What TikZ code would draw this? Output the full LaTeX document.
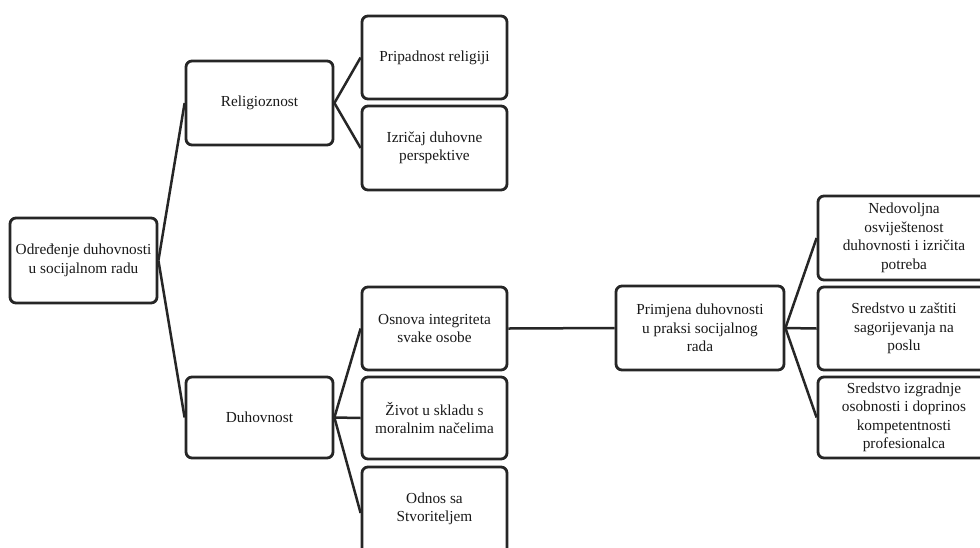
\documentclass[tikz,border=0pt]{standalone}
\usepackage{fontspec}
\setmainfont{Liberation Serif}
\begin{document}
\begin{tikzpicture}[x=1pt,y=-1pt,
  box/.style={draw=black!85, line width=2.8pt, rounded corners=6pt, align=center,
    inner sep=1pt, font=\fontsize{15.3}{18.5}\selectfont, text=black!90},
  link/.style={draw=black!85, line width=2.5pt}]
\useasboundingbox (0,0) rectangle (980,547);
\fill[white] (0,0) rectangle (980,547);
\node[box, minimum width=147pt, minimum height=85pt] (root) at (83.5,260.5) {Određenje duhovnosti\\u socijalnom radu};
\node[box, minimum width=147pt, minimum height=84pt] (rel) at (259.5,103) {Religioznost};
\node[box, minimum width=147pt, minimum height=81pt] (duh) at (259.5,417.5) {Duhovnost};
\node[box, minimum width=145pt, minimum height=83pt] (prip) at (434.5,57.5) {Pripadnost religiji};
\node[box, minimum width=145pt, minimum height=84pt] (izr) at (434.5,148) {Izričaj duhovne\\perspektive};
\node[box, minimum width=145pt, minimum height=83pt] (osn) at (434.5,328.5) {Osnova integriteta\\svake osobe};
\node[box, minimum width=145pt, minimum height=82pt] (ziv) at (434.5,418) {Život u skladu s\\moralnim načelima};
\node[box, minimum width=145pt, minimum height=92pt, text depth=12pt] (odn) at (434.5,513) {Odnos sa\\Stvoriteljem};
\node[box, minimum width=168pt, minimum height=84pt] (prim) at (700,328) {Primjena duhovnosti\\u praksi socijalnog\\rada};
\node[box, minimum width=172pt, minimum height=84pt] (ned) at (904,238) {Nedovoljna\\osviještenost\\duhovnosti i izričita\\potreba};
\node[box, minimum width=172pt, minimum height=83pt] (zas) at (904,328.5) {Sredstvo u zaštiti\\sagorijevanja na\\poslu};
\node[box, minimum width=172pt, minimum height=81pt] (izg) at (904,417.5) {Sredstvo izgradnje\\osobnosti i doprinos\\kompetentnosti\\profesionalca};
\draw[link] (root.east) -- (rel.west);
\draw[link] (root.east) -- (duh.west);
\draw[link] (rel.east) -- (prip.west);
\draw[link] (rel.east) -- (izr.west);
\draw[link] (duh.east) -- (osn.west);
\draw[link] (duh.east) -- (ziv.west);
\draw[link] (duh.east) -- (odn.west);
\draw[link] (osn.east) -- (prim.west);
\draw[link] (prim.east) -- (ned.west);
\draw[link] (prim.east) -- (zas.west);
\draw[link] (prim.east) -- (izg.west);
\end{tikzpicture}
\end{document}
